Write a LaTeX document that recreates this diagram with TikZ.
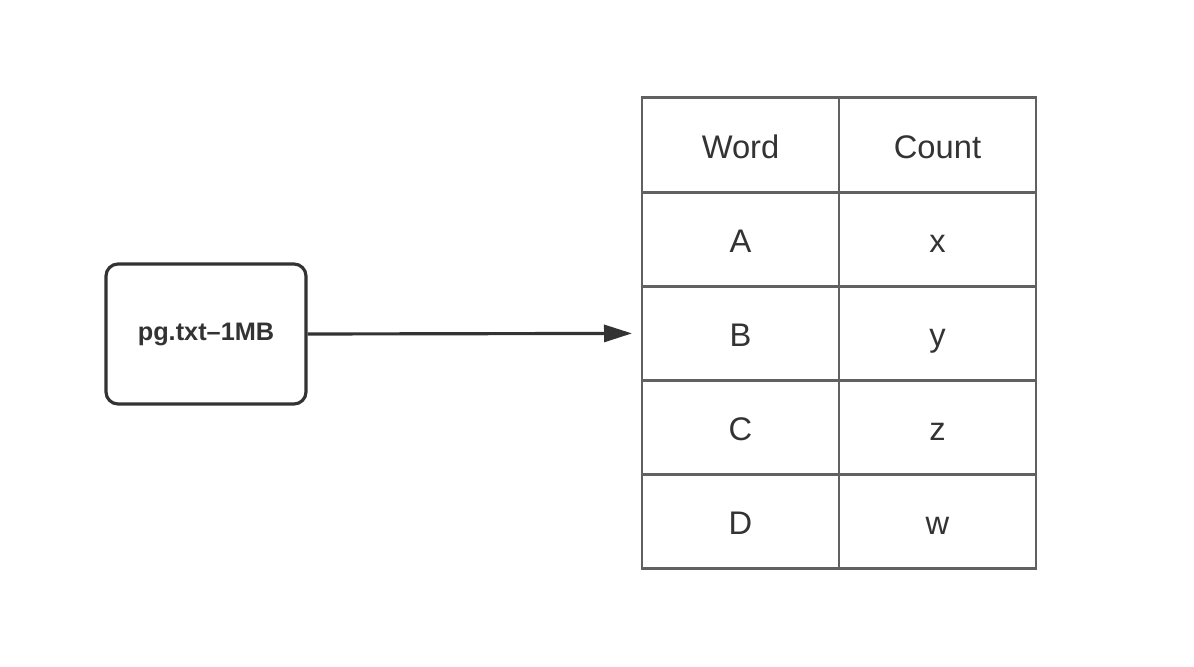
\documentclass[tikz,border=0pt]{standalone}
\usepackage{fontspec}
\setmainfont{Liberation Sans}
\usepackage{tikz}
\usetikzlibrary{positioning,arrows.meta}
\definecolor{darkline}{HTML}{333333}
\definecolor{gridline}{HTML}{616161}
\tikzset{
    filebox/.style={
        rectangle,
        rounded corners=1.2mm,
        draw=darkline,
        line width=0.9pt,
        minimum width=2cm,
        minimum height=1.4cm,
        text=darkline,
        font=\bfseries\fontsize{7.2}{8}\selectfont
    },
    cellbox/.style={
        rectangle,
        draw=gridline,
        line width=0.85pt,
        minimum width=1.97cm,
        minimum height=0.942cm,
        inner sep=0,
        text height=1.6ex,
        text depth=0.2ex,
        text=darkline,
        font=\fontsize{9.3}{11}\selectfont
    }
}
\begin{document}
\begin{tikzpicture}[
                >={Triangle[length=2.8mm,width=1.7mm]}
            ]
            \useasboundingbox (0,0) rectangle (11.94,6.66);
            % input file
            \node[filebox] (file) at (2.06,3.32) {pg.txt--1MB};
            % word count table
            \foreach \w/\c [count=\i] in {Word/Count,A/x,B/y,C/z,D/w} {
                \node[cellbox] (w\i) at (7.405,6.152-0.942*\i) {\w};
                \node[cellbox] (c\i) at (9.375,6.152-0.942*\i) {\c};
            }
            \draw[->,darkline,line width=0.9pt] (file.east) -- ([xshift=-0.085cm]w3.west);
\end{tikzpicture}
\end{document}
